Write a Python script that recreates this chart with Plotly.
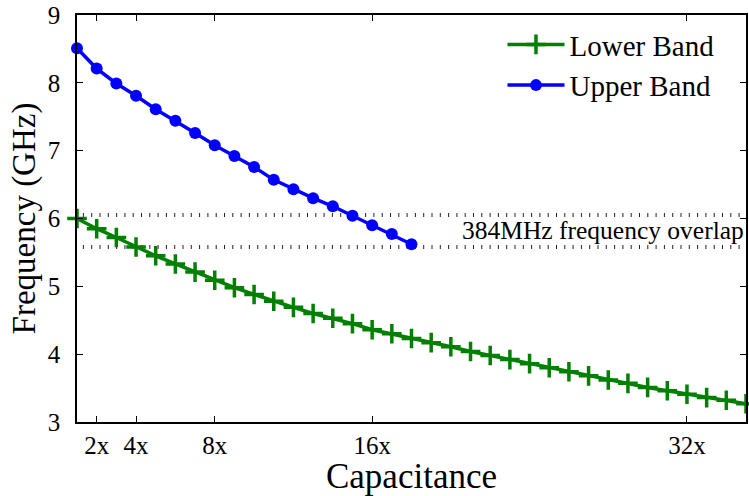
import plotly.graph_objects as go

# ---- data ----
lower_x = list(range(1, 36))
lower_y = [6.00, 5.85, 5.72, 5.58, 5.45, 5.33, 5.21, 5.09, 4.98, 4.88,
           4.78, 4.69, 4.60, 4.53, 4.45, 4.36, 4.30, 4.23, 4.17, 4.11,
           4.04, 3.98, 3.92, 3.86, 3.80, 3.74, 3.68, 3.62, 3.57, 3.51,
           3.46, 3.41, 3.36, 3.32, 3.27]
upper_x = list(range(1, 19))
upper_y = [8.51, 8.21, 7.99, 7.81, 7.61, 7.44, 7.26, 7.08, 6.92, 6.76,
           6.57, 6.43, 6.30, 6.18, 6.04, 5.90, 5.77, 5.62]
overlap_hi = 6.05
overlap_lo = 5.58
overlap_x = [1.3, 35]
overlap_label = "384MHz frequency overlap"
xtick_vals = [2, 4, 8, 16, 32]
xtick_text = ["2x", "4x", "8x", "16x", "32x"]
ytick_vals = [3, 4, 5, 6, 7, 8, 9]

FONT = "Liberation Serif, Times New Roman, serif"

fig = go.Figure()

for yv in (overlap_hi, overlap_lo):
    fig.add_trace(go.Scatter(
        x=overlap_x, y=[yv, yv], mode="lines", showlegend=False,
        line=dict(color="#222222", width=4, dash="1px,7.3px"),
        hoverinfo="skip"))

fig.add_trace(go.Scatter(
    x=lower_x, y=lower_y, mode="lines+markers", name="Lower Band",
    line=dict(color="#008000", width=3.5),
    marker=dict(symbol="cross-thin", size=14, color="#008000",
                line=dict(color="#008000", width=3.5)),
    cliponaxis=False))

fig.add_trace(go.Scatter(
    x=upper_x, y=upper_y, mode="lines+markers", name="Upper Band",
    line=dict(color="#0000FF", width=3.5),
    marker=dict(symbol="circle", size=12, color="#0000FF"),
    cliponaxis=False))

fig.add_annotation(
    x=overlap_x[1], y=(overlap_hi + overlap_lo) / 2, xref="x", yref="y",
    text=overlap_label, showarrow=False, xanchor="right", yanchor="middle",
    xshift=0, yshift=1, font=dict(family=FONT, size=25.5, color="black"))

axis_common = dict(showline=True, linecolor="black", linewidth=1.5,
                   mirror="ticks", ticks="inside", ticklen=6,
                   tickcolor="black", tickwidth=1, showgrid=False,
                   zeroline=False)

fig.update_xaxes(range=[1, 35], tickvals=xtick_vals, ticktext=xtick_text,
                 tickfont=dict(family=FONT, size=25, color="black"),
                 title=dict(text="Capacitance", standoff=0,
                            font=dict(family=FONT, size=35, color="black")),
                 **axis_common)
fig.update_yaxes(range=[3, 9], tickvals=ytick_vals, ticklabelstandoff=10,
                 tickfont=dict(family=FONT, size=25, color="black"),
                 title=dict(text="Frequency (GHz)", standoff=2,
                            font=dict(family=FONT, size=33, color="black")),
                 **axis_common)

fig.update_layout(
    width=749, height=496,
    margin=dict(l=77, r=1, t=15, b=74),
    plot_bgcolor="white", paper_bgcolor="white",
    font=dict(family=FONT, color="black"),
    legend=dict(x=0.636, y=0.99, xanchor="left", yanchor="top",
                bgcolor="rgba(0,0,0,0)", borderwidth=0,
                font=dict(family=FONT, size=29, color="black"),
                itemwidth=57, tracegroupgap=4),
)

fig.write_html("out.html")
